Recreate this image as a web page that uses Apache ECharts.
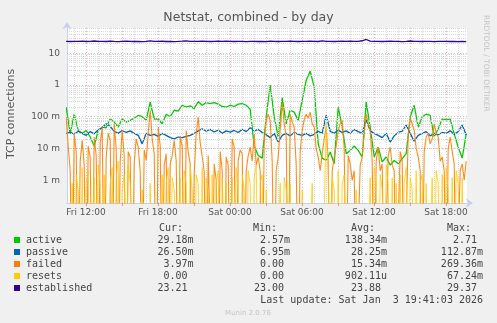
<!DOCTYPE html>
<html>
<head>
<meta charset="utf-8">
<script src="https://cdn.jsdelivr.net/npm/echarts@6/dist/echarts.min.js"></script>
<style>
html,body{margin:0;padding:0;background:#f0f0f0;}
#c{width:497px;height:323px;}
</style>
</head>
<body>
<div id="c"></div>
<script>
// ---- data (start Fri 10:21) ----
const startHour = 10.35;        // hours since Fri 00:00
const stepHours = 1 / 3;        // 20 minutes (active, passive, established)
const fineStepHours = 1 / 6;    // 10 minutes (failed, resets)

const active = [0.20,0.029,0.12,0.037,0.03,0.037,0.023,0.012,0.037,0.047,
  0.045,0.085,0.068,0.047,0.085,0.068,0.077,0.09,0.11,0.10,
  0.077,0.29,0.085,0.085,0.06,0.12,0.10,0.16,0.15,0.23,
  0.20,0.22,0.18,0.30,0.23,0.28,0.26,0.28,0.25,0.21,
  0.20,0.23,0.21,0.25,0.26,0.23,0.17,0.012,0.006,0.005,
  0.10,1.0,0.10,0.023,0.40,0.06,0.16,0.14,0.077,0.33,
  1.4,2.71,0.85,0.014,0.005,0.0042,0.0078,0.0033,0.20,0.047,
  0.0069,0.0087,0.012,0.0087,0.0054,0.29,0.047,0.0054,0.011,0.0038,
  0.0054,0.003,0.0042,0.0033,0.0048,0.0069,0.10,0.23,0.047,0.10,
  0.12,0.11,0.023,0.042,0.085,0.08,0.085,0.029,0.011,0.005,0.02918];

const passive = [0.030,0.033,0.028,0.035,0.030,0.026,0.034,0.029,0.038,0.045,
  0.060,0.050,0.035,0.030,0.037,0.032,0.036,0.030,0.026,0.014,
  0.030,0.026,0.028,0.024,0.030,0.026,0.022,0.020,0.023,0.022,
  0.024,0.026,0.030,0.036,0.042,0.035,0.040,0.033,0.038,0.030,
  0.036,0.033,0.037,0.032,0.040,0.034,0.045,0.036,0.040,0.032,
  0.027,0.022,0.030,0.016,0.026,0.030,0.025,0.032,0.028,0.026,
  0.030,0.025,0.028,0.035,0.030,0.11287,0.035,0.030,0.038,0.032,
  0.036,0.030,0.040,0.034,0.030,0.080,0.036,0.030,0.026,0.022,
  0.030,0.016,0.025,0.032,0.035,0.055,0.030,0.017,0.026,0.030,
  0.034,0.025,0.030,0.027,0.032,0.030,0.036,0.028,0.034,0.055,0.0265];

const failed = [0.10,0.012,0.002,0,0.029,0.008,0,0.004,0.018,0.003,
  0,0.012,0.0054,0,0.023,0.006,0,0.015,0.047,0,
  0.0054,0.03,0.018,0,0.06,0.01,0,0.004,0.037,0.006,
  0,0.008,0.0054,0,0.0033,0.02,0.011,0.002,0,0.009,
  0.0042,0.03,0.16,0.02,0.0069,0,0.047,0.012,0,0.003,
  0.0069,0,0.0033,0.006,0.018,0.004,0,0.025,0.011,0,
  0.037,0.008,0.0033,0,0.0016,0.03,0.10,0.015,0.0054,0.002,
  0,0.006,0.0054,0,0.0033,0.001,0,0.008,0.002,0,
  0.0054,0.003,0,0.02,0.011,0,0.0042,0.009,0.0069,0,
  0.002,0.006,0.011,0.004,0.029,0.003,0.0054,0.002,0,0.015,
  0.077,0.12,0.077,0.004,0,0.002,0.0054,0.04,0.26936,0.06,
  0.023,0,0.12,0.07,0.047,0.003,0,0.008,0.037,0.08,
  0.12,0.09,0.14,0.06,0.047,0.01,0.0054,0.002,0.0069,0.02,
  0.047,0.004,0,0.002,0.0054,0.012,0.037,0.06,0.077,0.01,
  0,0.006,0.0033,0.001,0.002,0,0,0.003,0.0054,0.03,
  0.12,0.06,0.037,0.004,0,0.004,0.011,0.002,0.0033,0,
  0,0.006,0.011,0.003,0.002,0,0,0.008,0.0042,0,
  0,0.025,0.09,0.06,0.037,0.01,0.0054,0.002,0,0.008,
  0.023,0.03,0.014,0.02,0.06,0.03,0.023,0.004,0.0054,0.002,
  0,0.01,0.023,0.008,0.0033,0,0,0.002,0.0033,0.001,0.00397];

const resets = [0,0,0,0.0008,0,0.0015,0.0005,0,0.0025,0,
  0.0008,0.002,0,0,0.0012,0,0.003,0.0008,0,0.0015,
  0,0,0.0008,0.0025,0,0.0012,0.004,0,0.0005,0.0015,
  0,0.003,0.0008,0,0,0,0,0,0.0005,0,
  0,0,0.0008,0,0,0,0,0,0.0015,0,
  0.0008,0.0025,0,0.0012,0.0005,0,0,0.0012,0,0.002,
  0.0008,0,0.003,0.0005,0,0.0015,0.0008,0,0.0025,0,
  0.0012,0.0005,0,0.0015,0,0.0008,0.002,0,0.0012,0,
  0.0008,0,0,0.0012,0,0.0025,0.0008,0,0.0015,0.0005,
  0,0.002,0.0008,0,0.0012,0.003,0,0.0008,0.0015,0,
  0.0005,0,0,0,0,0,0,0.0008,0,0.0012,
  0.0005,0,0.0008,0,0,0,0,0,0.0005,0,
  0,0,0,0.0008,0,0,0,0,0,0,
  0.06724,0.0015,0,0.0012,0.0005,0,0.002,0,0.0008,0.0015,
  0,0,0,0,0,0.0005,0,0,0,0,
  0,0,0.0012,0,0.0025,0.0008,0,0.0015,0.0005,0,
  0.003,0.0008,0,0.0012,0,0.0008,0,0.0015,0,0.0008,
  0.0025,0,0.0012,0.0005,0,0.002,0,0.0008,0.0015,0,
  0.0008,0,0,0.0012,0,0.002,0.0008,0,0.0015,0,
  0.0025,0.0005,0,0.0012,0,0.002,0.0008,0,0.0012,0,0];

const established = [23.4,23.3,23.6,23.4,23.9,23.3,23.5,24.2,23.4,23.6,
  23.3,23.8,23.4,23.2,23.6,24.0,23.4,23.3,23.5,23.2,
  23.6,24.3,23.5,23.4,23.9,23.3,23.5,23.2,23.4,23.8,
  24.4,23.6,23.5,23.4,24.0,23.6,23.3,23.5,23.7,23.4,
  23.9,23.5,23.3,23.6,23.4,23.2,23.5,23.4,23.3,23.5,
  23.2,23.8,23.4,23.3,23.6,23.4,24.1,23.5,23.3,23.6,
  23.4,23.9,23.5,23.3,24.3,23.4,23.6,23.3,23.5,23.8,
  23.4,24.0,23.5,23.6,24.6,27.0,23.8,23.5,23.4,23.3,
  23.6,24.1,23.5,23.4,23.2,23.5,24.2,23.6,23.4,23.3,
  23.5,23.4,23.2,23.6,23.4,23.5,23.3,23.4,23.2,23.3,23.21];

const seriesNames = ['active','passive','failed','resets','established'];
const seriesColors = ['#00cc00','#0066b3','#ff8000','#ffcc00','#330099'];
const curVals = ['29.18m','26.50m','3.97m','0.00 ','23.21 '];
const minVals = ['2.57m','6.95m','0.00 ','0.00 ','23.00 '];
const avgVals = ['138.34m','28.25m','15.34m','902.11u','23.88 '];
const maxVals = ['2.71 ','112.87m','269.36m','67.24m','29.37 '];

const xLabelHours = [12, 18, 24, 30, 36, 42];
const yLabelValues = [0.001, 0.01, 0.1, 1, 10];
const yLabelTexts = ['1 m', '10 m', '100 m', '1', '10'];

const xMin = 10.4167, xMax = 43.75;
const yMin = 1.93e-4, yMax = 62;
const ZERO_FLOOR = 1e-7; // zero drawn at the bottom of the log axis, like rrdtool

// ---- build ----
function toPairs(arr, step) {
  return arr.map((v, i) => [startHour + i * step, v <= 0 ? ZERO_FLOOR : v]);
}
function fmtHour(h) {
  const day = h < 24 ? 'Fri' : 'Sat';
  const hh = Math.round(h % 24);
  return day + ' ' + String(hh).padStart(2, '0') + ':00';
}

const vMinor = [], vMajor = [];
for (let h = Math.ceil(xMin); h <= Math.floor(xMax); h++) {
  if (h % 3 === 0) vMajor.push(h); else vMinor.push(h);
}
const hMinor = [], hMajor = [];
for (let e = -4; e <= 1; e++) {
  for (let k = 1; k <= 9; k++) {
    const v = k * Math.pow(10, e);
    if (v < yMin * 1.02 || v > yMax) continue;
    if (k === 1) hMajor.push(v); else hMinor.push(v);
  }
}
const minorStyle = { color: '#d9d9d9', width: 1, type: [1, 1] };
const majorStyle = { color: 'rgba(220,140,140,0.6)', width: 1, type: [1, 2] };
const gridMarkData = []
  .concat(vMinor.map(h => ({ xAxis: h, lineStyle: minorStyle })))
  .concat(hMinor.map(v => ({ yAxis: v, lineStyle: minorStyle })))
  .concat(vMajor.map(h => ({ xAxis: h, lineStyle: majorStyle })))
  .concat(hMajor.map(v => ({ yAxis: v, lineStyle: majorStyle })));

const seriesData = [active, passive, failed, resets, established];
const seriesSteps = [stepHours, stepHours, fineStepHours, fineStepHours, stepHours];
const seriesWidths = [1.3, 1.3, 1.1, 1.0, 1.3];
const seriesOpacity = [1, 1, 0.9, 0.8, 1];
const series = [{
  type: 'line', data: [], silent: true, z: 1,
  markLine: { silent: true, symbol: ['none', 'none'], label: { show: false },
    animation: false, data: gridMarkData }
}];
seriesData.forEach((arr, i) => {
  series.push({
    name: seriesNames[i], type: 'line', data: toPairs(arr, seriesSteps[i]), showSymbol: false,
    symbol: 'none', z: 3 + i, clip: true,
    lineStyle: { color: seriesColors[i], width: seriesWidths[i], opacity: seriesOpacity[i] },
    itemStyle: { color: seriesColors[i] }
  });
});

const mono = 'DejaVu Sans Mono';
const rowY = [240, 252, 264, 276, 288];
const graphic = [
  { type: 'text', left: 'center', top: 11, style: { text: 'Netstat, combined - by day', font: '12.5px "DejaVu Sans"', fill: '#555' } },
  { type: 'text', x: 11, y: 114, rotation: Math.PI / 2, style: { text: 'TCP connections', font: '11px "DejaVu Sans"', fill: '#555', align: 'center', verticalAlign: 'middle' } },
  { type: 'text', x: 486, y: 15, rotation: -Math.PI / 2, style: { text: 'RRDTOOL / TOBI OETIKER', font: '7.5px "DejaVu Sans"', fill: '#c4c4c4', align: 'left', verticalAlign: 'middle' } },
  { type: 'text', x: 159, y: 228, style: { text: 'Cur:', font: '10px ' + mono, fill: '#444', verticalAlign: 'middle' } },
  { type: 'text', x: 253, y: 228, style: { text: 'Min:', font: '10px ' + mono, fill: '#444', verticalAlign: 'middle' } },
  { type: 'text', x: 351, y: 228, style: { text: 'Avg:', font: '10px ' + mono, fill: '#444', verticalAlign: 'middle' } },
  { type: 'text', x: 447, y: 228, style: { text: 'Max:', font: '10px ' + mono, fill: '#444', verticalAlign: 'middle' } },
  { type: 'text', x: 483, y: 300, style: { text: 'Last update: Sat Jan  3 19:41:03 2026', font: '10px ' + mono, fill: '#444', align: 'right', verticalAlign: 'middle' } },
  { type: 'text', x: 248, y: 313, style: { text: 'Munin 2.0.76', font: '7px "DejaVu Sans"', fill: '#c4c4c4', align: 'center', verticalAlign: 'middle' } }
];
seriesNames.forEach((n, i) => {
  const y = rowY[i];
  graphic.push({ type: 'rect', shape: { x: 14, y: y - 3, width: 6, height: 6 }, style: { fill: seriesColors[i] } });
  graphic.push({ type: 'text', x: 26, y: y, style: { text: n, font: '10px ' + mono, fill: '#444', verticalAlign: 'middle' } });
  [[curVals, 193.5], [minVals, 290], [avgVals, 387], [maxVals, 483]].forEach(([col, xr]) => {
    graphic.push({ type: 'text', x: xr, y: y, style: { text: col[i], font: '10px ' + mono, fill: '#444', align: 'right', verticalAlign: 'middle' } });
  });
});

const chart = echarts.init(document.getElementById('c'), null, { renderer: 'canvas' });
chart.setOption({
  animation: false,
  backgroundColor: '#f0f0f0',
  grid: { left: 67, right: 30, top: 28, bottom: 120, show: true, backgroundColor: '#ffffff', borderWidth: 0 },
  xAxis: {
    type: 'value', min: xMin, max: xMax,
    axisLine: { show: true, lineStyle: { color: '#c8d0ee', width: 1 }, symbol: ['none', 'arrow'], symbolSize: [7, 7], symbolOffset: [0, 6] },
    axisTick: { show: true, customValues: vMajor, length: 3, lineStyle: { color: 'rgba(220,130,130,0.8)' } },
    axisLabel: { customValues: xLabelHours, formatter: v => fmtHour(v), color: '#555', fontFamily: 'DejaVu Sans', fontSize: 9, margin: 5 },
    splitLine: { show: false }
  },
  yAxis: {
    type: 'log', logBase: 10, min: yMin, max: yMax,
    axisLine: { show: true, lineStyle: { color: '#c8d0ee', width: 1 }, symbol: ['none', 'arrow'], symbolSize: [7, 7], symbolOffset: [0, 6] },
    axisTick: { show: false },
    axisLabel: { customValues: yLabelValues, formatter: v => {
        const idx = yLabelValues.findIndex(t => Math.abs(Math.log10(t) - Math.log10(v)) < 1e-6);
        return idx >= 0 ? yLabelTexts[idx] : '';
      }, color: '#555', fontFamily: 'DejaVu Sans', fontSize: 9, margin: 7 },
    splitLine: { show: false }, minorSplitLine: { show: false }
  },
  graphic: graphic,
  series: series
});
</script>
</body>
</html>
